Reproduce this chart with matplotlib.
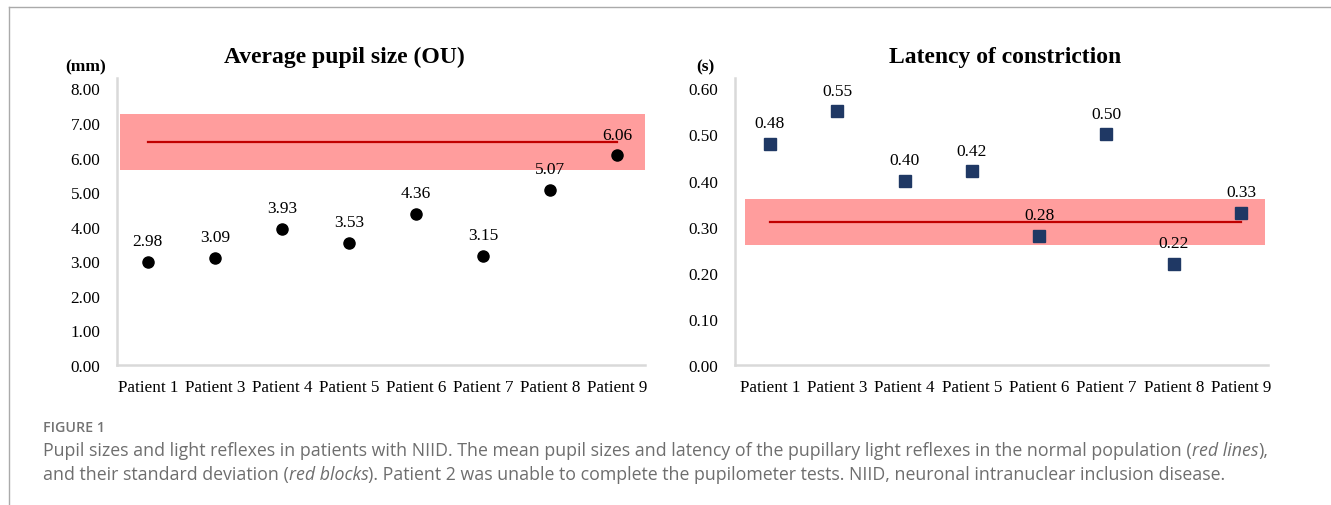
import numpy as np
from matplotlib import pyplot as plt
from matplotlib.lines import Line2D
from matplotlib.ticker import FormatStrFormatter

patients = ["Patient 1", "Patient 3", "Patient 4", "Patient 5",
            "Patient 6", "Patient 7", "Patient 8", "Patient 9"]
pupil_size = [2.98, 3.09, 3.93, 3.53, 4.36, 3.15, 5.07, 6.06]
latency = [0.48, 0.55, 0.40, 0.42, 0.28, 0.50, 0.22, 0.33]

# normal population: mean and standard deviation
pupil_mean, pupil_sd = 6.45, 0.80
latency_mean, latency_sd = 0.31, 0.05

pupil_ticks = [0, 1, 2, 3, 4, 5, 6, 7, 8]
latency_ticks = [0.0, 0.1, 0.2, 0.3, 0.4, 0.5, 0.6]

serif = "Liberation Serif"
band_color = "#ff9d9d"
line_color = "#c00000"
spine_color = "#d9d9d9"

W, H = 1331, 506
fig = plt.figure(figsize=(W / 100, H / 100), dpi=100)


def px(x0, y0, x1, y1):
    # pixel box -> figure fraction
    return [x0 / W, 1 - y1 / H, (x1 - x0) / W, (y1 - y0) / H]


def panel(rect, vals, mean, sd, ticks, ylim, xlim, band_x, marker, mcolor):
    ax = fig.add_axes(rect)
    x = np.arange(len(patients))
    ax.axhspan(mean - sd, mean + sd, xmin=band_x[0], xmax=band_x[1],
               color=band_color, lw=0, zorder=1)
    ax.plot([x[0], x[-1]], [mean, mean], color=line_color, lw=1.6, zorder=2)
    ax.plot(x, vals, ls="none", marker=marker, color=mcolor, ms=8, zorder=3)
    for xi, v in zip(x, vals):
        ax.annotate("%.2f" % v, (xi, v), xytext=(0, 15), textcoords="offset points",
                    ha="center", va="center", fontsize=12.5, family=serif, zorder=4)
    ax.set_xlim(*xlim)
    ax.set_ylim(*ylim)
    ax.set_xticks(x)
    ax.set_xticklabels(patients)
    ax.set_yticks(ticks)
    ax.yaxis.set_major_formatter(FormatStrFormatter("%.2f"))
    for s in ["top", "right"]:
        ax.spines[s].set_visible(False)
    for s in ["left", "bottom"]:
        ax.spines[s].set_color(spine_color)
        ax.spines[s].set_linewidth(1.8)
    ax.tick_params(axis="both", length=0, labelsize=12.3)
    ax.tick_params(axis="y", pad=12)
    ax.tick_params(axis="x", pad=10)
    for lab in ax.get_xticklabels() + ax.get_yticklabels():
        lab.set_family(serif)
    return ax


ax0 = panel(px(117, 79, 645, 366), pupil_size, pupil_mean, pupil_sd, pupil_ticks,
            (0, 8.3), (-0.46, 7.42), (0.005, 1.0), "o", "black")
panel(px(735, 79, 1268, 366), latency, latency_mean, latency_sd, latency_ticks,
      (0, 0.6 * 8.3 / 8), (-0.52, 7.40), (0.019, 0.994), "s", "#1f3864")

fig.text(344 / W, 1 - 57 / H, "Average pupil size (OU)", ha="center", va="center",
         fontsize=17, weight="bold", family=serif)
fig.text(1005 / W, 1 - 57 / H, "Latency of constriction", ha="center", va="center",
         fontsize=17, weight="bold", family=serif)
fig.text(86 / W, 1 - 67 / H, "(mm)", ha="center", va="center",
         fontsize=12.5, weight="bold", family=serif)
fig.text(705 / W, 1 - 67 / H, "(s)", ha="center", va="center",
         fontsize=12.5, weight="bold", family=serif)

# frame
fig.add_artist(Line2D([9 / W, 9 / W], [0, 1 - 8 / H], color="#aaaaaa", lw=1))
fig.add_artist(Line2D([9 / W, 1], [1 - 8 / H, 1 - 8 / H], color="#aaaaaa", lw=1))

# caption
cap = dict(fontsize=12.8, family="Open Sans", color="#6e6e6e", va="bottom")
fig.text(43 / W, 1 - 428 / H, "FIGURE 1", fontsize=10.3, family="Open Sans",
         color="#737373", va="center", weight="semibold")


def chain(y, parts):
    prev = fig.text(43 / W, y, parts[0][0], style=parts[0][1], **cap)
    for s, st in parts[1:]:
        prev = ax0.annotate(s, xy=(1, 0), xycoords=prev, style=st,
                            annotation_clip=False, **cap)


chain(1 - 460 / H, [
    ("Pupil sizes and light reflexes in patients with NIID. The mean pupil sizes and latency "
     "of the pupillary light reflexes in the normal population (", "normal"),
    ("red lines", "italic"), ("),", "normal")])
chain(1 - 484 / H, [
    ("and their standard deviation (", "normal"), ("red blocks", "italic"),
    ("). Patient 2 was unable to complete the pupilometer tests. NIID, neuronal "
     "intranuclear inclusion disease.", "normal")])

fig.savefig("out.png", dpi=100)
